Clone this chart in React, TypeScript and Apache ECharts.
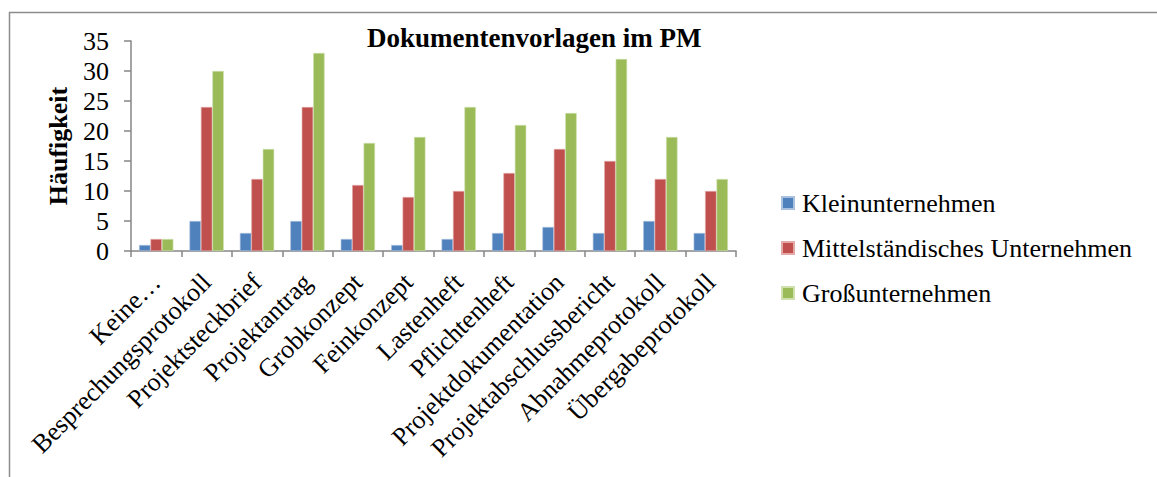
import React, { useEffect, useRef } from "react";
import * as echarts from "echarts";

const categories = [
  "Keine…",
  "Besprechungsprotokoll",
  "Projektsteckbrief",
  "Projektantrag",
  "Grobkonzept",
  "Feinkonzept",
  "Lastenheft",
  "Pflichtenheft",
  "Projektdokumentation",
  "Projektabschlussbericht",
  "Abnahmeprotokoll",
  "Übergabeprotokoll",
];
const kleinunternehmen = [1, 5, 3, 5, 2, 1, 2, 3, 4, 3, 5, 3];
const mittelstaendisch = [2, 24, 12, 24, 11, 9, 10, 13, 17, 15, 12, 10];
const grossunternehmen = [2, 30, 17, 33, 18, 19, 24, 21, 23, 32, 19, 12];
const seriesNames = ["Kleinunternehmen", "Mittelständisches Unternehmen", "Großunternehmen"];
const yTicks = { min: 0, max: 35, interval: 5 };

const FONT = '"Liberation Serif", "Times New Roman", serif';

export default function App() {
  const ref = useRef<HTMLDivElement>(null);
  useEffect(() => {
    if (!ref.current) return;
    const chart = echarts.init(ref.current, undefined, { renderer: "svg" });
    const axisColor = "#868686";
    chart.setOption({
      animation: false,
      backgroundColor: "#ffffff",
      textStyle: { fontFamily: FONT },
      title: {
        text: "Dokumentenvorlagen im PM",
        left: 362,
        top: 19,
        textStyle: { fontFamily: FONT, fontSize: 27, fontWeight: "bold", color: "#000" },
      },
      legend: {
        orient: "vertical",
        left: 776,
        top: 185,
        itemWidth: 12,
        itemHeight: 12,
        itemGap: 19,
        icon: "rect",
        textStyle: { fontFamily: FONT, fontSize: 26, color: "#000", padding: [0, 0, 0, 3] },
        data: seriesNames,
      },
      grid: { left: 131, right: 421, top: 41, bottom: 226, containLabel: false },
      xAxis: {
        type: "category",
        data: categories,
        axisLine: { lineStyle: { color: axisColor, width: 1.5 } },
        axisTick: { show: true, length: 6, lineStyle: { color: axisColor, width: 1.5 } },
        axisLabel: {
          interval: 0,
          rotate: 45,
          margin: 27,
          fontFamily: FONT,
          fontSize: 26,
          color: "#000",
        },
      },
      yAxis: {
        type: "value",
        min: yTicks.min,
        max: yTicks.max,
        interval: yTicks.interval,
        name: "Häufigkeit",
        nameLocation: "middle",
        nameGap: 60,
        nameTextStyle: { fontFamily: FONT, fontSize: 26, fontWeight: "bold", color: "#000" },
        splitLine: { show: false },
        axisLine: { show: true, lineStyle: { color: axisColor, width: 1.5 } },
        axisTick: { show: true, length: 7, lineStyle: { color: axisColor, width: 1.5 } },
        axisLabel: { margin: 22, fontFamily: FONT, fontSize: 26, color: "#000" },
      },
      graphic: [
        {
          type: "rect",
          shape: { x: 9.5, y: 12.5, width: 1180, height: 500 },
          style: { fill: "none", stroke: "#8c8c8c", lineWidth: 1.5 },
          silent: true,
          z: -1,
        },
      ],
      series: [
        {
          name: seriesNames[0],
          type: "bar",
          data: kleinunternehmen,
          barGap: "0%",
          barCategoryGap: "32%",
          itemStyle: { color: "#4F81BD", borderColor: "#a9c0de", borderWidth: 0.6 },
        },
        {
          name: seriesNames[1],
          type: "bar",
          data: mittelstaendisch,
          barGap: "0%",
          barCategoryGap: "32%",
          itemStyle: { color: "#C0504D", borderColor: "#e3a9a7", borderWidth: 0.6 },
        },
        {
          name: seriesNames[2],
          type: "bar",
          data: grossunternehmen,
          barGap: "0%",
          barCategoryGap: "32%",
          itemStyle: { color: "#9BBB59", borderColor: "#cfe0ad", borderWidth: 0.6 },
        },
      ],
    });
    return () => chart.dispose();
  }, []);
  return (
    <div
      ref={ref}
      style={{ position: "absolute", left: 0, top: 0, width: 1157, height: 477, background: "#fff" }}
    />
  );
}
